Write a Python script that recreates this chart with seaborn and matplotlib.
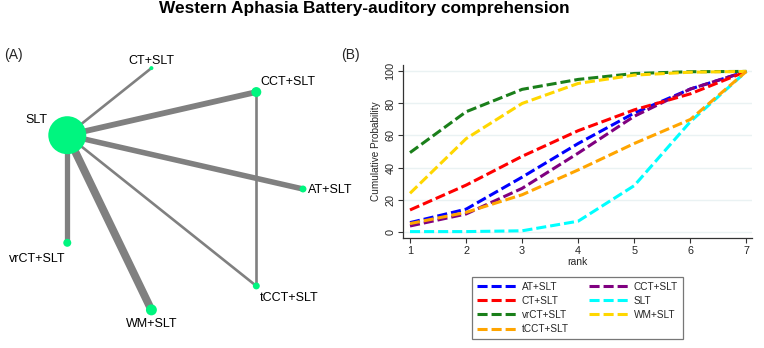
import numpy as np
import pandas as pd
import matplotlib
matplotlib.use('Agg')
import matplotlib.pyplot as plt
from matplotlib.lines import Line2D
import seaborn as sns

# ---------------- data ----------------
# (B) cumulative ranking probabilities (%)
ranks = [1, 2, 3, 4, 5, 6, 7]
cum_at = [5.6, 14, 34, 55, 74, 89, 100]
cum_cct = [3.5, 11, 27, 49, 72, 89, 100]
cum_ct = [13.5, 29, 47, 63, 76, 86, 100]
cum_slt = [0, 0, 0.5, 6.5, 28.7, 68.6, 100]
cum_vrct = [49.3, 74.8, 88.8, 95, 98.7, 99.8, 100]
cum_wm = [23.9, 58, 80, 92.5, 97.7, 99.5, 100]
cum_tcct = [5, 12, 23, 38.5, 55, 70, 100]

# (A) network: nodes in circular order (3 o'clock, counter-clockwise)
net_nodes = ['AT+SLT', 'CCT+SLT', 'CT+SLT', 'SLT', 'vrCT+SLT', 'WM+SLT', 'tCCT+SLT']
node_n = [12, 25, 4, 361, 16, 30, 12]
edge_from = ['SLT', 'SLT', 'SLT', 'SLT', 'SLT', 'SLT', 'CCT+SLT']
edge_to = ['CT+SLT', 'CCT+SLT', 'AT+SLT', 'vrCT+SLT', 'WM+SLT', 'tCCT+SLT', 'tCCT+SLT']
edge_studies = [1, 2.2, 2.1, 2, 3, 1, 1]

# ---------------- style ----------------
sns.set_theme(style='white')
plt.rcParams['font.family'] = ['Liberation Sans', 'DejaVu Sans']

series = {
    'AT+SLT': cum_at, 'CCT+SLT': cum_cct, 'CT+SLT': cum_ct, 'SLT': cum_slt,
    'vrCT+SLT': cum_vrct, 'WM+SLT': cum_wm, 'tCCT+SLT': cum_tcct,
}
palette = {
    'AT+SLT': '#0000FF', 'CCT+SLT': '#800080', 'CT+SLT': '#FF0000', 'SLT': '#00FFFF',
    'vrCT+SLT': '#1A7F1A', 'WM+SLT': '#FFD700', 'tCCT+SLT': '#FFA500',
}
legend_order = ['AT+SLT', 'CT+SLT', 'vrCT+SLT', 'tCCT+SLT', 'CCT+SLT', 'SLT', 'WM+SLT']

df = pd.DataFrame([
    {'treatment': t, 'rank': r, 'prob': p}
    for t, vals in series.items() for r, p in zip(ranks, vals)
])

W, H = 764, 348
fig = plt.figure(figsize=(W / 100, H / 100), dpi=100)

fig.text(364 / W, 1 - 13.5 / H, 'Western Aphasia Battery-auditory comprehension',
         ha='center', va='baseline', fontsize=12.4, fontweight='bold', color='black')
fig.text(13 / W, 1 - 55 / H, '(A)', ha='center', va='center', fontsize=10)
fig.text(350 / W, 1 - 55 / H, '(B)', ha='center', va='center', fontsize=10)

# ---------------- (A) network plot ----------------
cx, cy, rad = 179, 189, 124   # circle centre / radius in pixels
ax_n = fig.add_axes([0, 3 / H, 360 / W, 310 / H])
ax_n.set_xlim(-cx / rad, (360 - cx) / rad)
ax_n.set_ylim((cy - 345) / rad, (cy - 35) / rad)
ax_n.axis('off')

angles = np.arange(len(net_nodes)) * 2 * np.pi / len(net_nodes)
pos = {n: (np.cos(a), np.sin(a)) for n, a in zip(net_nodes, angles)}

for a, b, w in zip(edge_from, edge_to, edge_studies):
    ax_n.plot([pos[a][0], pos[b][0]], [pos[a][1], pos[b][1]],
              color='#808080', lw=1.9 * w, solid_capstyle='butt', zorder=1)

nodes_df = pd.DataFrame({'x': [pos[n][0] for n in net_nodes],
                         'y': [pos[n][1] for n in net_nodes],
                         'n': node_n})
sns.scatterplot(data=nodes_df, x='x', y='y', s=nodes_df['n'] * 2.07,
                color='#00F57F', edgecolor='none', ax=ax_n, zorder=3, legend=False)
ax_n.set_xlabel('')
ax_n.set_ylabel('')

label_place = {
    'SLT': ((-14.2, 10.8), 'right'),
    'CT+SLT': ((0, 5), 'center'),
    'CCT+SLT': ((2.9, 7.2), 'left'),
    'AT+SLT': ((3.8, -1), 'left'),
    'tCCT+SLT': ((2.4, -8.6), 'left'),
    'WM+SLT': ((0, -10.3), 'center'),
    'vrCT+SLT': ((-21.5, -11.8), 'center'),
}
for n in net_nodes:
    off, ha = label_place[n]
    ax_n.annotate(n, pos[n], xytext=off, textcoords='offset points',
                  ha=ha, va='center', fontsize=9, color='black')

# ---------------- (B) cumulative ranking plot ----------------
ax = fig.add_axes([403 / W, (H - 238) / H, 349 / W, 173 / H])
sns.lineplot(data=df, x='rank', y='prob', hue='treatment', style='treatment',
             hue_order=list(series.keys()), style_order=list(series.keys()),
             palette=palette, dashes={t: (3.3, 1.3) for t in series},
             lw=2.2, legend=False, ax=ax)

ax.set_xlim(0.875, 7.1)
ax.set_ylim(-4, 104)
ax.set_xticks(ranks)
ax.set_yticks([0, 20, 40, 60, 80, 100])
ax.yaxis.grid(True, color='#EAF2F3', lw=1)
ax.set_axisbelow(True)
for s in ['top', 'right']:
    ax.spines[s].set_visible(False)
for s in ['left', 'bottom']:
    ax.spines[s].set_color('#333333')
    ax.spines[s].set_linewidth(0.9)
ax.tick_params(axis='both', direction='out', length=3.5, width=0.8,
               color='#333333', labelsize=7.8, pad=2, left=True, bottom=True)
plt.setp(ax.get_yticklabels(), rotation=90, va='center')
ax.set_xlabel('rank', fontsize=7.5, labelpad=1)
ax.set_ylabel('Cumulative Probability', fontsize=7.2, labelpad=3)

handles = [Line2D([], [], color=palette[t], lw=2.2, ls=(0, (3.3, 1.3))) for t in legend_order]
leg = fig.legend(handles, legend_order, ncol=2, loc='upper center',
                 bbox_to_anchor=(577.5 / W, (H - 272) / H), fontsize=7.2,
                 frameon=True, fancybox=False, edgecolor='#555555',
                 handlelength=3.9, handletextpad=0.6, columnspacing=2.0,
                 labelspacing=0.42, borderpad=0.45)
leg.get_frame().set_linewidth(0.9)

fig.savefig('out.png', dpi=100)
